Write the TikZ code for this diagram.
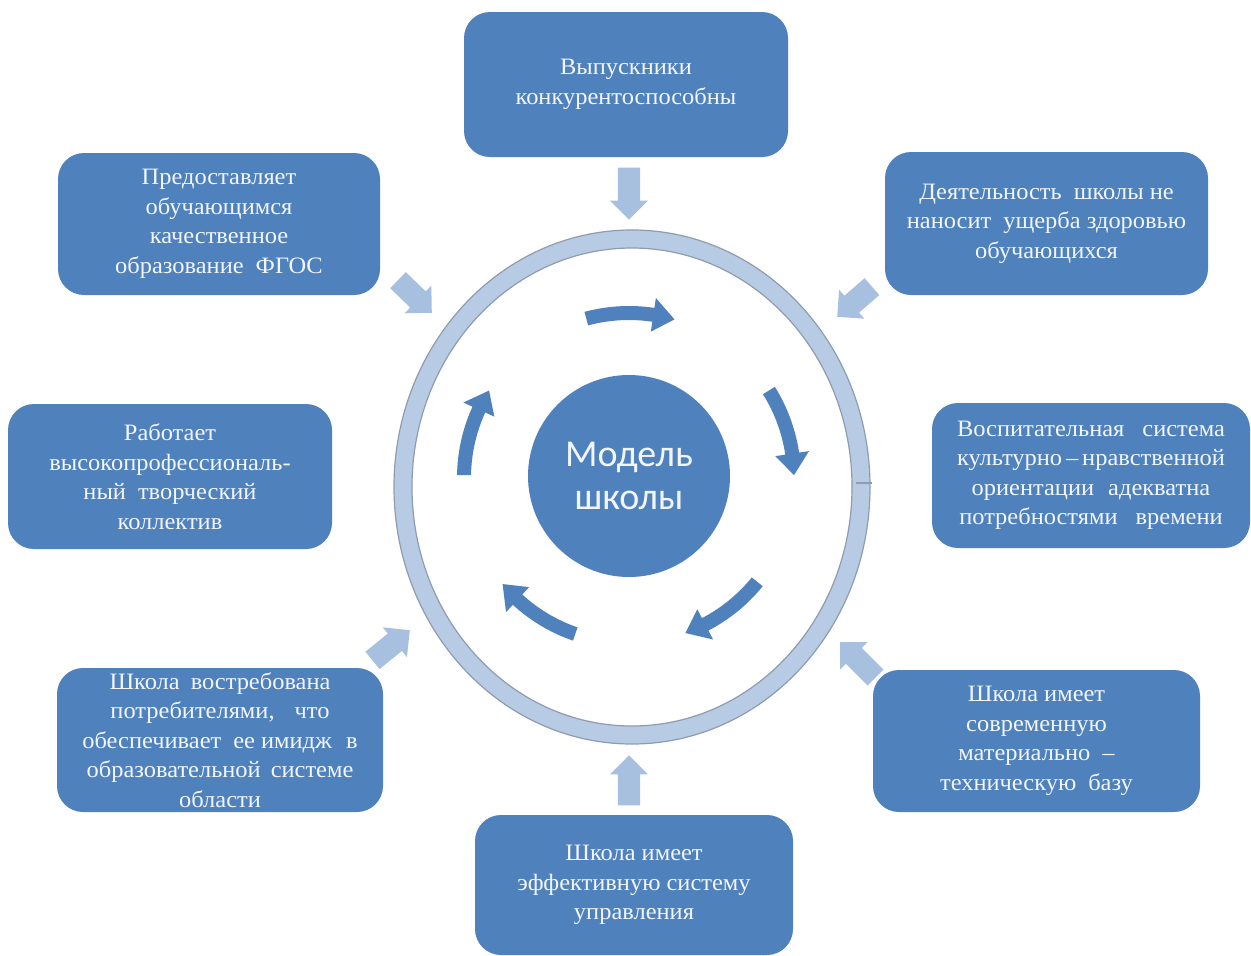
\documentclass[tikz,border=0pt]{standalone}
\usepackage{fontspec}
\setmainfont{Liberation Serif}[FakeStretch=1.04]
\newfontfamily\cfont{Carlito}
\usetikzlibrary{shapes.arrows}
\definecolor{boxblue}{HTML}{4F81BD}
\definecolor{lightarr}{HTML}{A8C0E0}
\definecolor{ringfill}{HTML}{B8CBE4}
\definecolor{ringedge}{HTML}{8E9CB0}
\definecolor{txt}{HTML}{F2F6FB}
\newcommand\wsp[1]{\hspace{#1pt}}
\begin{document}
\begin{tikzpicture}[x=1pt,y=-1pt,
  box/.style={draw=none, fill=boxblue, rounded corners=26pt, text=txt, align=center,
    font=\fontsize{23.5}{29.5}\selectfont, inner sep=0pt},
  inarrow/.style={single arrow, fill=lightarr, draw=none, inner sep=11pt,
    single arrow head extend=8pt, single arrow head indent=0pt, minimum width=38pt, anchor=tip},
  cycarrow/.style={fill=boxblue, draw=none}]
\useasboundingbox (0,0) rectangle (1251,956);
\fill[white] (0,0) rectangle (1251,956);

% ring
\draw[draw=ringedge, line width=1.2pt, fill=ringfill, even odd rule]
  (632,487) ellipse [x radius=238, y radius=257]
  (632,487) ellipse [x radius=220, y radius=239];
\draw[ringedge, line width=1.2pt] (856,483) -- (872,483);

% centre
\node[circle, fill=boxblue, minimum size=202pt, inner sep=0pt, text=txt, align=center,
  font=\cfont\fontsize{38}{43}\selectfont] (model) at (629,476) {Модель\\школы};

% cycle arrows
\begin{scope}[shift={(629,478)}]
\foreach \s in {105,32,-39,-109,-181}{
  \pgfmathsetmacro\e{\s-31}
  \pgfmathsetmacro\h{\e+7.5}
  \fill[cycarrow] (\s:172pt) arc[start angle=\s, end angle=\h, radius=172pt]
    -- (\h:182pt) -- (\e:165pt) -- (\h:148pt) -- (\h:158pt)
    arc[start angle=\h, end angle=\s, radius=158pt] -- cycle;
}
\end{scope}

% boxes
\node[box, minimum width=324pt, minimum height=145pt] (b1) at (626,84.5) {Выпускники\\конкурентоспособны};
\node[box, minimum width=322pt, minimum height=142pt] (b2) at (219,224) {Предоставляет\\обучающимся\\качественное\\образование\wsp{12}ФГОС};
\node[box, minimum width=323pt, minimum height=143pt] (b3) at (1046.5,223.5) {Деятельность\wsp{12}школы не\\наносит\wsp{12}ущерба здоровью\\обучающихся};
\node[box, minimum width=318pt, minimum height=145pt] (b4) at (1091,475.5) {Воспитательная\wsp{18}система\\культурно\,--\,нравственной\\ориентации\wsp{14}адекватна\\потребностями\wsp{18}времени};
\node[box, minimum width=324pt, minimum height=145pt] (b5) at (170,476.5) {Работает\\высокопрофессиональ-\\ный\wsp{12}творческий\\коллектив};
\node[box, minimum width=326pt, minimum height=144pt] (b6) at (220,740) {Школа\wsp{11}востребована\\потребителями,\wsp{20}что\\обеспечивает\wsp{12}ее имидж\wsp{14}в\\образовательной\wsp{10}системе\\области};
\node[box, minimum width=318pt, minimum height=140pt] (b7) at (634,885) {Школа имеет\\эффективную систему\\управления};
\node[box, minimum width=327pt, minimum height=142pt] (b8) at (1036.5,741) {Школа имеет\\современную\\материально\wsp{12}--\\техническую\wsp{12}базу};

% input arrows
\node[inarrow, rotate=-90, minimum height=52pt] (a1) at (629,220) {};
\node[inarrow, rotate=-44, minimum height=47pt] (a2) at (432,313) {};
\node[inarrow, rotate=-139, minimum height=46pt] (a3) at (837,317) {};
\node[inarrow, rotate=39, minimum height=48pt] (a6) at (410,630) {};
\node[inarrow, rotate=135, minimum height=50pt] (a8) at (840,642) {};
\node[inarrow, rotate=90, minimum height=50pt] (a7) at (629,755) {};
\end{tikzpicture}
\end{document}
